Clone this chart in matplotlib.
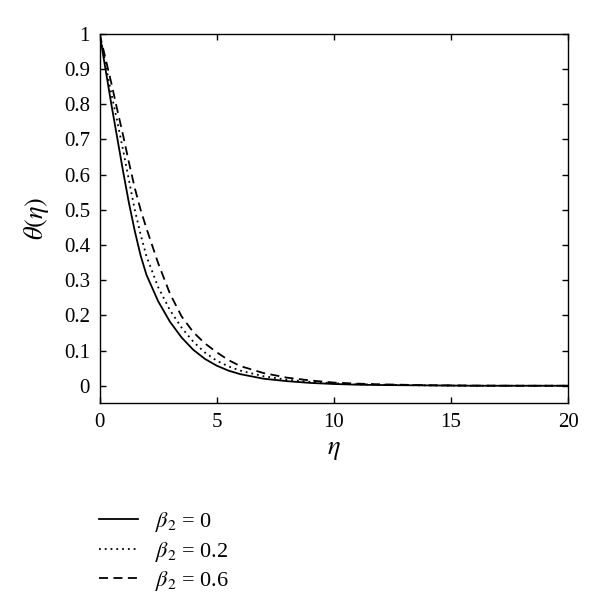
import matplotlib
matplotlib.use("Agg")
import matplotlib.pyplot as plt

plt.rcParams['font.family'] = ['Liberation Serif', 'DejaVu Serif']
plt.rcParams['mathtext.fontset'] = 'stix'

eta = [0, 0.25, 0.5, 0.75, 1, 1.25, 1.5, 1.75, 2, 2.5, 3, 3.5, 4, 4.5, 5, 5.5,
       6, 7, 8, 9, 10, 11, 12, 14, 16, 18, 20]
theta_b0 = [1.0, 0.90, 0.80, 0.705, 0.61, 0.52, 0.44, 0.37, 0.315, 0.24, 0.182,
            0.137, 0.102, 0.076, 0.057, 0.043, 0.033, 0.020, 0.013, 0.008, 0.005,
            0.003, 0.002, 0.001, 0.0, 0.0, 0.0]
theta_b02 = [1.0, 0.915, 0.83, 0.752, 0.67, 0.585, 0.50, 0.43, 0.368, 0.28, 0.215,
             0.165, 0.125, 0.094, 0.071, 0.055, 0.043, 0.027, 0.017, 0.011, 0.007,
             0.004, 0.003, 0.001, 0.0, 0.0, 0.0]
theta_b06 = [1.0, 0.93, 0.86, 0.785, 0.712, 0.635, 0.562, 0.50, 0.447, 0.348, 0.262,
             0.197, 0.152, 0.12, 0.095, 0.073, 0.056, 0.036, 0.023, 0.015, 0.009,
             0.006, 0.004, 0.0015, 0.0005, 0.0, 0.0]
labels = [r'$\beta_2$ = 0', r'$\beta_2$ = 0.2', r'$\beta_2$ = 0.6']
xticks = [0, 5, 10, 15, 20]
yticks = [0, 0.1, 0.2, 0.3, 0.4, 0.5, 0.6, 0.7, 0.8, 0.9, 1]

fig = plt.figure(figsize=(6.0, 6.13), dpi=100)
ax = fig.add_axes([0.166, 0.342, 0.781, 0.603])

l1, = ax.plot(eta, theta_b0, color='black', lw=1.3, linestyle='-')
l2, = ax.plot(eta, theta_b02, color='black', lw=1.3, linestyle=(0, (1, 2.2)))
l3, = ax.plot(eta, theta_b06, color='black', lw=1.3, linestyle=(0, (5, 3)))

ax.set_xlim(0, 20)
ax.set_ylim(-0.05, 1.0)
ax.set_xticks(xticks)
ax.set_xticklabels([str(t) for t in xticks])
ax.set_yticks(yticks)
ax.set_yticklabels(['0'] + [f'{t:g}' for t in yticks[1:-1]] + ['1'])
ax.tick_params(direction='in', top=True, right=True, length=4, width=1,
               labelsize=15, pad=7)
for s in ax.spines.values():
    s.set_linewidth(1.0)

ax.set_xlabel(r'$\eta$', fontsize=19, labelpad=6)
ax.set_ylabel(r'$\theta(\eta)$', fontsize=19, labelpad=9)

fig.legend([l1, l2, l3], labels, loc='upper left', bbox_to_anchor=(0.147, 0.186),
           frameon=False, fontsize=16, handlelength=1.75, handletextpad=0.75,
           labelspacing=0.25, borderpad=0)

fig.savefig('out.png', dpi=100)
